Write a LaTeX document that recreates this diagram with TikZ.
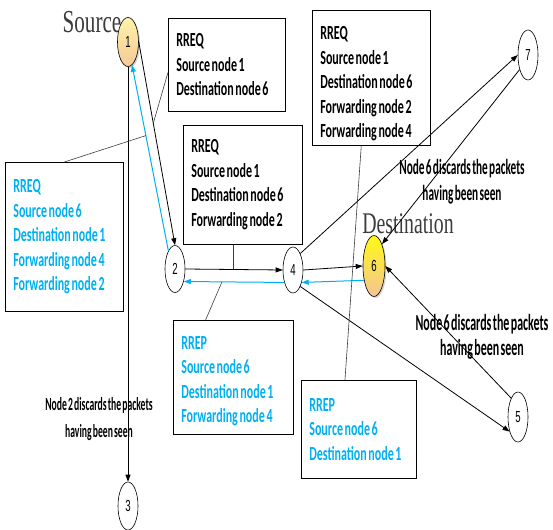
\documentclass[tikz,border=0pt]{standalone}
\usepackage{fontspec}
\usepackage{tikz}
\usetikzlibrary{shapes.geometric, arrows.meta, positioning, calc, shadows}
\newfontfamily\msgfont[FakeStretch=0.6, WordSpace=0.6]{Carlito}
\newfontfamily\notefont[FakeStretch=0.52, WordSpace=0.52]{Carlito}
\newfontfamily\tagfont[FakeStretch=0.66, WordSpace=0.66]{Liberation Serif}
\newfontfamily\numfont[FakeStretch=0.6]{Liberation Sans}
\definecolor{RTBlue}{RGB}{0, 176, 240}
\definecolor{RTGray}{RGB}{60, 60, 60}
\definecolor{RTPale}{RGB}{255, 242, 170}
\definecolor{RTCream}{RGB}{250, 225, 150}
\definecolor{RTYellow}{RGB}{255, 250, 20}
\definecolor{RTPeach}{RGB}{244, 195, 150}

\begin{document}
\begin{tikzpicture}[x=1pt, y=-1pt,
    host/.style={ellipse, draw, line width=0.6pt, inner sep=0pt, minimum width=20pt,
        font={\numfont\fontsize{16}{16}\selectfont}},
    msgbox/.style={draw, line width=0.7pt, anchor=north west, align=flush left,
        inner xsep=8pt, inner ysep=0pt, font={\msgfont\bfseries\fontsize{20}{24.5}\selectfont}},
    note/.style args={#1/#2}{align=center, font={\notefont\bfseries\fontsize{#1}{#2}\selectfont}},
    link/.style={line width=0.8pt, -{Triangle[length=7pt, width=5pt]}},
    back/.style={link, RTBlue, line width=1pt},
    callout/.style={RTGray, line width=0.6pt}]
    \useasboundingbox (0,0) rectangle (553,529);

    % Tags
    \node[RTGray, anchor=base, font={\tagfont\fontsize{32}{32}\selectfont}] (srcTag) at (92,33) {Source};
    \node[RTGray, anchor=base, font={\tagfont\fontsize{30}{30}\selectfont}] (dstTag) at (408,233) {Destination};

    % Hosts
    \node[host, minimum width=21pt, minimum height=49pt, top color=RTPale, middle color=RTCream!70!RTPale,
        bottom color=RTPeach!80!RTCream, drop shadow={shadow xshift=1.5pt, shadow yshift=-1.5pt, opacity=.35}] (n1) at (128,42) {1};
    \node[host, minimum width=22pt, minimum height=61pt, top color=RTYellow, middle color=RTYellow!75!RTPeach,
        bottom color=RTPeach, drop shadow={shadow xshift=1.5pt, shadow yshift=-1.5pt, opacity=.35}] (n6) at (374,266) {6};
    \foreach \n/\x/\y/\h in {2/175/269/47, 3/128/506/48, 4/293/270/46, 5/518/417/50, 7/528/55/50}
        \node[host, fill=white, minimum height=\h pt] (n\n) at (\x,\y) {\n};

    % Messages
    \node[msgbox, text width=101pt, minimum height=93pt] (reqA) at (168,18)
        {RREQ\\Source node 1\\Destination node 6};
    \node[msgbox, text width=103pt, minimum height=119pt] (reqB) at (183,125)
        {RREQ\\Source node 1\\Destination node 6\\Forwarding node 2};
    \node[msgbox, text width=102pt, minimum height=135pt] (reqC) at (312,10)
        {\rule{0pt}{25pt}RREQ\\Source node 1\\Destination node 6\\Forwarding node 2\\Forwarding node 4};
    \node[msgbox, text=RTBlue, text width=102pt, minimum height=149pt] (reqD) at (5,162)
        {RREQ\\Source node 6\\Destination node 1\\Forwarding node 4\\Forwarding node 2};
    \node[msgbox, text=RTBlue, text width=104pt, minimum height=114pt] (repE) at (173,320)
        {\rule{0pt}{21pt}RREP\\Source node 6\\Destination node 1\\Forwarding node 4};
    \node[msgbox, text=RTBlue, text width=99pt, minimum height=98pt] (repF) at (301,380)
        {RREP\\Source node 6\\Destination node 1};

    % Links
    \draw[link] (n1.east) -- coordinate[pos=0.4] (tapA) (n2.north);
    \draw[back] (n2.110) -- coordinate[pos=0.62] (tapD) (n1.280);
    \draw[link] (n1.south) -- (n3.north);
    \draw[link] (n2.east) -- coordinate[pos=0.49] (tapB) (n4.west);
    \draw[back] (n4.235) -- coordinate[pos=0.62] (tapE) (n2.305);
    \draw[link] (n4.east) -- (n6.west);
    \draw[back] (n6.235) -- (n4.305);
    \draw[link] (n4.north east) -- (n7.west);
    \draw[link] (n4.south east) -- (n5.240);
    \draw[link] (n7.240) -- (n6.70);
    \draw[link] (n5.110) -- (n6.east);

    % Callouts
    \draw[callout] ($(reqA.north west)!0.58!(reqA.south west)$) -- (tapA);
    \draw[callout] (reqD.north) -- (tapD);
    \draw[callout] (tapB |- reqB.south) -- (tapB);
    \draw[callout] ($(repE.north west)!0.27!(repE.north east)$) -- (tapE);
    \draw[callout] ($(reqC.south west)!0.415!(reqC.south east)$) -- ($(repF.north west)!0.38!(repF.north east)$);

    % Notes
    \node[note=21.7/26] (seenTop) at (462,182) {Node 6 discards the packets\\having been seen};
    \node[note=23/25] (seenMid) at (482,337) {Node 6 discards the packets\\having been seen};
    \node[note=18.6/27] (seenLow) at (99,419) {Node 2 discards the packets\\having been seen};
\end{tikzpicture}
\end{document}
